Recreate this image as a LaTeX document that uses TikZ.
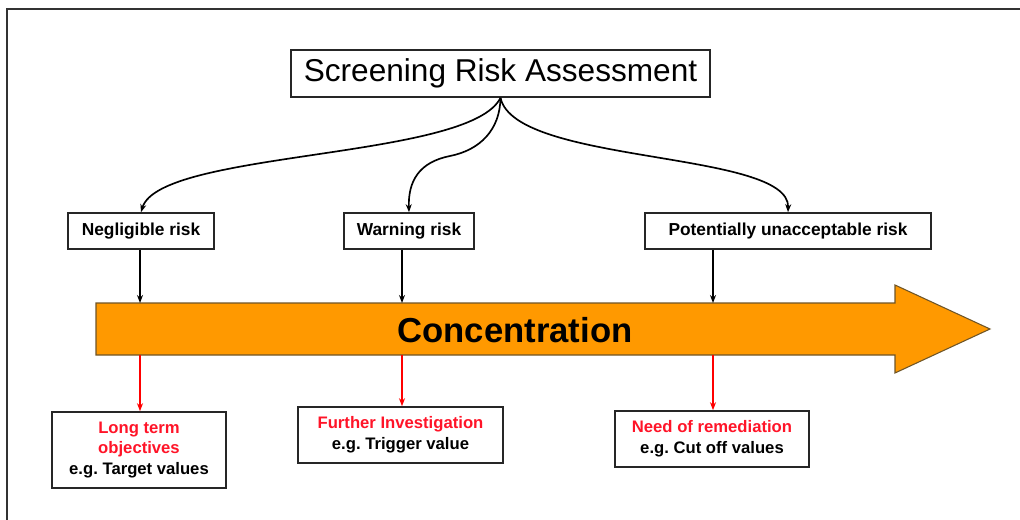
\documentclass[tikz,border=0pt]{standalone}
\usepackage{fontspec}
\setmainfont{Liberation Sans}
\usetikzlibrary{arrows.meta}
\definecolor{arroworange}{RGB}{255,153,0}
\definecolor{arrowedge}{RGB}{110,85,40}
\definecolor{txtred}{RGB}{255,20,40}
\frenchspacing
\tikzset{
  box/.style={draw=black!85, line width=1.2pt, fill=white, inner sep=0pt, align=center},
  toptext/.style={font=\bfseries\fontsize{13}{15}\selectfont},
  bottext/.style={font=\bfseries\fontsize{12.5}{15.5}\selectfont},
  conn/.style={line width=1.25pt, -{Stealth[length=6pt,width=4.5pt]}},
  redconn/.style={conn, draw=red},
}
\begin{document}
\begin{tikzpicture}[x=0.75pt,y=-0.75pt]
\useasboundingbox (0,0) rectangle (1020,520);
% frame
\draw[line width=1.6pt, draw=black!80] (7,522) -- (7,9) -- (1022,9);
% big arrow
\draw[fill=arroworange, draw=arrowedge, line width=0.8pt]
  (96,303) -- (895,303) -- (895,285) -- (990,329) -- (895,373) -- (895,355) -- (96,355) -- cycle;
\coordinate (bodyTop) at (0,303);
\coordinate (bodyBot) at (0,355);
\node[font=\bfseries\fontsize{26}{30}\selectfont] (conc) at (515,330) {Concentration};
% title
\node[box, minimum width=419*0.75pt, minimum height=47*0.75pt, font=\fontsize{23.7}{28}\selectfont] (title) at (500.5,73.5) {\raisebox{-1pt}{Screening Risk Assessment}};
% middle boxes
\node[box, toptext, minimum width=146*0.75pt, minimum height=36*0.75pt] (neg) at (141,231) {Negligible risk};
\node[box, toptext, minimum width=130*0.75pt, minimum height=36*0.75pt] (warn) at (409,231) {Warning risk};
\node[box, toptext, minimum width=286*0.75pt, minimum height=36*0.75pt] (pot) at (788,231) {Potentially unacceptable risk};
% bottom boxes
\node[box, bottext, minimum width=174*0.75pt, minimum height=76*0.75pt] (lt) at (139,450)
  {\textcolor{txtred}{Long term}\\\textcolor{txtred}{objectives}\\e.g. Target values};
\node[box, bottext, minimum width=205*0.75pt, minimum height=56*0.75pt] (fi) at (400.5,435)
  {\textcolor{txtred}{Further Investigation}\\e.g. Trigger value};
\node[box, bottext, minimum width=194*0.75pt, minimum height=56*0.75pt] (need) at (712,439)
  {\textcolor{txtred}{Need of remediation}\\e.g. Cut off values};
% curved connectors
\draw[conn] (title.south) .. controls (470,160) and (160,150) .. (neg.north);
\draw[conn] (title.south) .. controls (500,130) and (480,150) .. (450,156)
  .. controls (420,162) and (408,180) .. (warn.north);
\draw[conn] (title.south) .. controls (515,165) and (790,150) .. (pot.north);
% down to arrow
\draw[conn] (neg.south -| lt.north) ++(1,0) coordinate (n1) (n1) -- (n1 |- bodyTop);
\draw[conn] (warn.south -| fi.north) ++(1.5,0) coordinate (w1) (w1) -- (w1 |- bodyTop);
\draw[conn] (pot.south -| need.north) ++(1,0) coordinate (p1) (p1) -- (p1 |- bodyTop);
% red connectors
\draw[redconn] (n1 |- bodyBot) -- (n1 |- lt.north);
\draw[redconn] (w1 |- bodyBot) -- (w1 |- fi.north);
\draw[redconn] (p1 |- bodyBot) -- (p1 |- need.north);
\end{tikzpicture}
\end{document}
